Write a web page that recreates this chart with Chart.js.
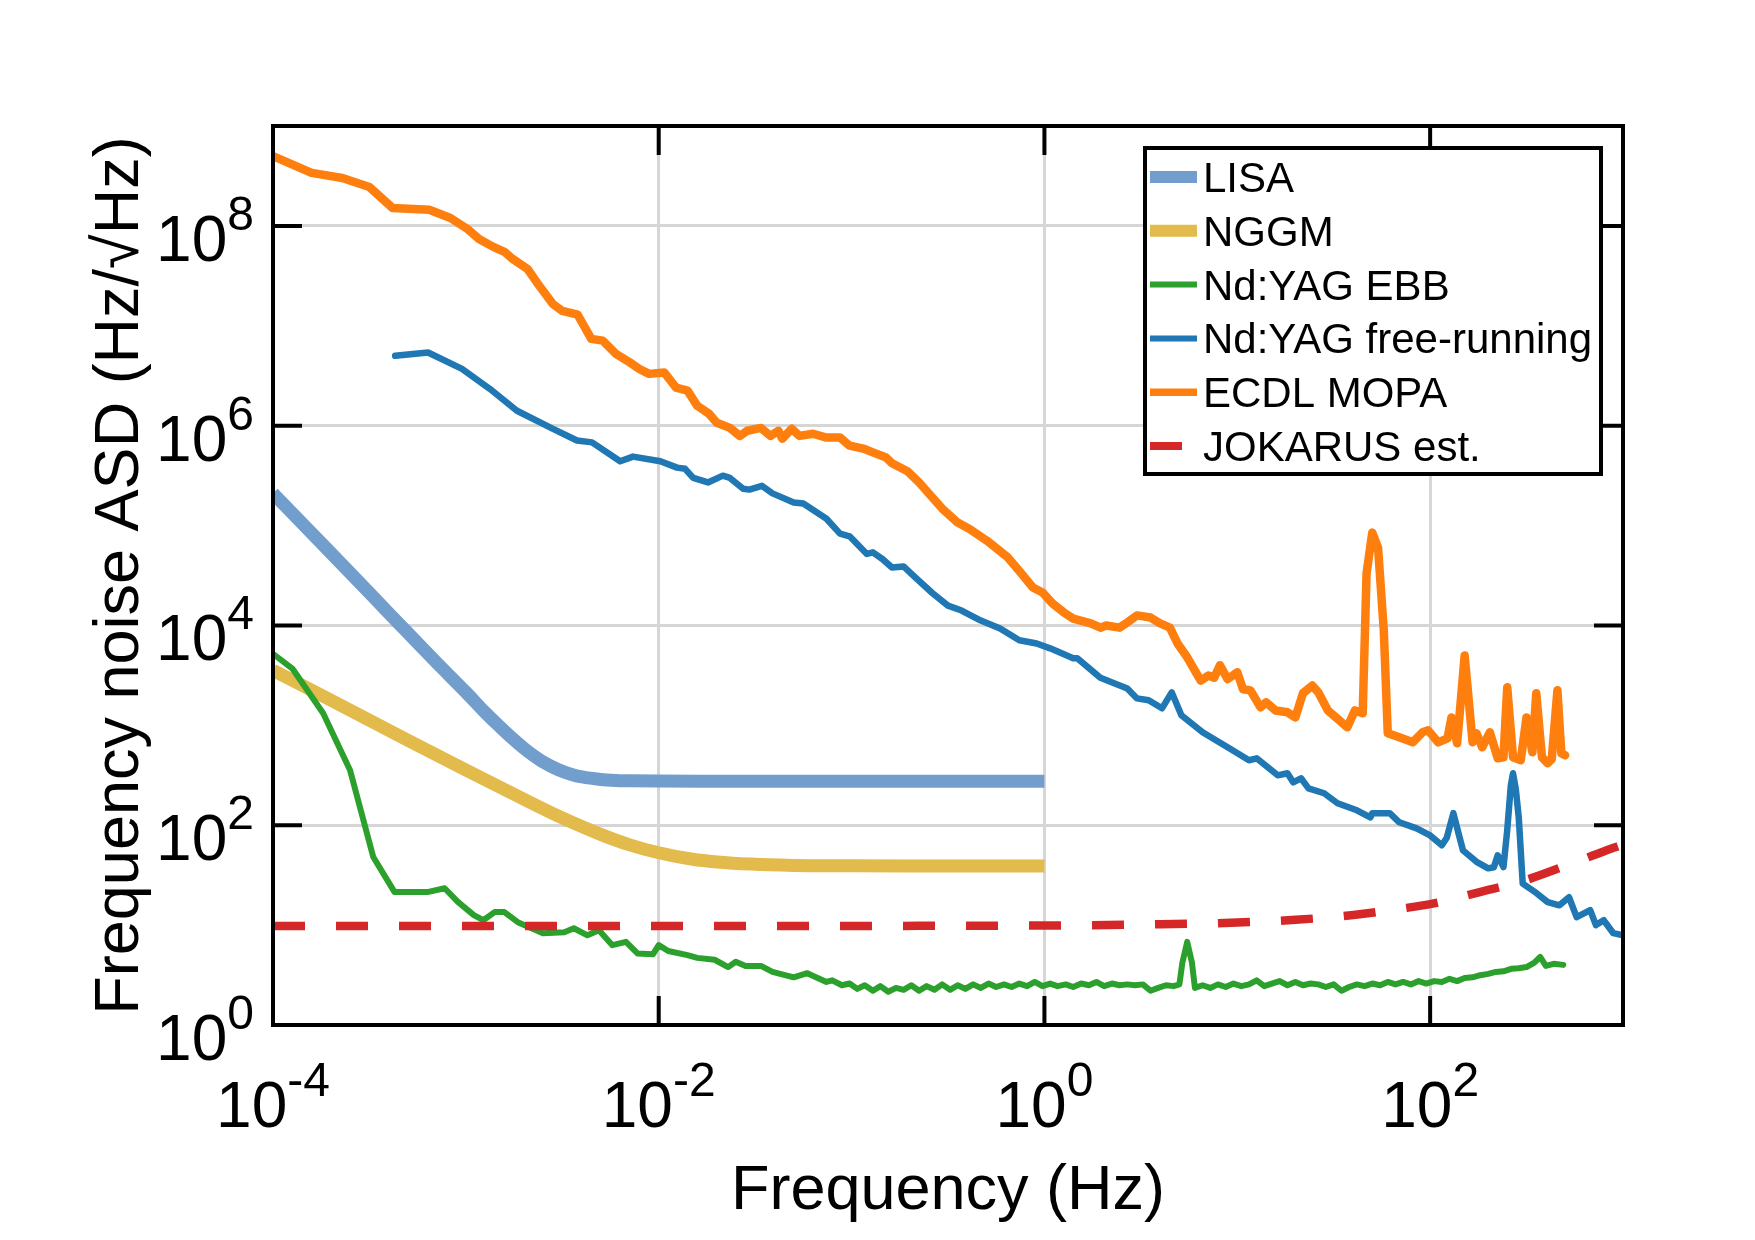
<!DOCTYPE html>
<html>
<head>
<meta charset="utf-8">
<title>Frequency noise ASD</title>
<script src="https://cdn.jsdelivr.net/npm/chart.js@4.4.1/dist/chart.umd.min.js"></script>
<style>
    html, body { margin: 0; padding: 0; background: #fff; }
    #wrap { width: 1755px; height: 1240px; }
</style>
</head>
<body>
<div id="wrap"><canvas id="asdChart" width="1755" height="1240"></canvas></div>
<script>
// === Axis ticks (log decades) ===
const xTickValues = [1e-4, 1e-2, 1, 1e2];
const xTickExps = ['-4', '-2', '0', '2'];
const yTickValues = [1, 1e2, 1e4, 1e6, 1e8];
const yTickExps = ['0', '2', '4', '6', '8'];

// === Series (Hz, Hz/sqrt(Hz)) ===
const lisaFreq = [1e-4, 2e-4, 4e-4, 7e-4, 1e-3, 1.25e-3, 1.5e-3, 1.75e-3, 2e-3, 2.25e-3, 2.5e-3, 3e-3, 3.5e-3, 4e-3, 5e-3, 6e-3, 7e-3, 1e-2, 2e-2, 5e-2, 1e-1, 1];
const lisaAsd = [2.1e5, 5.3e4, 1.32e4, 4.3e3, 2.15e3, 1365, 970, 735, 590, 496, 433, 361, 324, 304, 287, 281, 279, 277, 276, 275, 275, 275];

const nggmFreq = [1e-4, 2e-4, 5e-4, 1e-3, 2e-3, 3e-3, 5e-3, 7e-3, 1e-2, 1.5e-2, 2e-2, 3e-2, 5e-2, 1e-1, 2e-1, 1];
const nggmAsd = [3.55e3, 1.78e3, 709, 357, 182, 124, 81, 64, 53, 45.6, 42.9, 40.8, 39.6, 39.2, 39, 39];

const ebbFreq = [
    1.0e-4, 1.26e-4, 1.82e-4, 2.51e-4, 3.31e-4, 4.27e-4, 6.31e-4, 7.76e-4, 9.12e-4, 1.10e-3,
    1.23e-3, 1.41e-3, 1.585e-3, 1.86e-3, 2.51e-3, 3.24e-3, 3.63e-3, 4.27e-3, 4.90e-3, 5.75e-3,
    6.76e-3, 7.76e-3, 9.33e-3, 1.0e-2, 1.12e-2, 1.41e-2, 1.585e-2, 1.95e-2, 2.29e-2, 2.51e-2,
    2.82e-2, 3.39e-2, 3.89e-2, 5.01e-2, 5.89e-2, 7.41e-2, 7.94e-2, 8.91e-2, 9.77e-2, 0.107,
    0.117, 0.129, 0.141, 0.155, 0.170, 0.186, 0.204, 0.224, 0.245, 0.269,
    0.295, 0.324, 0.355, 0.389, 0.427, 0.468, 0.513, 0.562, 0.617, 0.676,
    0.741, 0.813, 0.891, 0.977, 1.07, 1.17, 1.29, 1.41, 1.55, 1.70,
    1.86, 2.04, 2.24, 2.45, 2.69, 2.95, 3.24, 3.55, 3.89, 4.27,
    4.68, 5.01, 5.19, 5.50, 5.82, 6.03, 6.61, 7.24, 7.94, 8.71,
    9.55, 10.5, 11.5, 12.6, 13.8, 15.1, 16.6, 18.2, 20.0, 21.9,
    24.0, 26.3, 28.8, 31.6, 34.7, 38.0, 41.7, 45.7, 50.1, 55.0,
    60.3, 66.1, 72.4, 79.4, 87.1, 95.5, 105, 115, 126, 138,
    151, 166, 182, 200, 219, 240, 263, 288, 316, 347,
    372, 398, 437, 490
];
const ebbAsd = [
    5.2e3, 3.7e3, 1.32e3, 355, 48, 21.4, 21.4, 23.4, 17, 12.6,
    11.2, 13.5, 13.5, 10.7, 8.3, 8.5, 9.3, 7.9, 8.9, 6.3,
    6.8, 5.2, 5.1, 6.3, 5.5, 5.0, 4.7, 4.5, 3.8, 4.3,
    3.9, 3.9, 3.4, 3.0, 3.3, 2.7, 2.8, 2.5, 2.6, 2.3,
    2.5, 2.2, 2.45, 2.15, 2.35, 2.25, 2.5, 2.2, 2.45, 2.25,
    2.55, 2.25, 2.5, 2.3, 2.55, 2.35, 2.6, 2.4, 2.55, 2.4,
    2.6, 2.45, 2.7, 2.45, 2.6, 2.45, 2.55, 2.4, 2.6, 2.5,
    2.7, 2.45, 2.6, 2.5, 2.55, 2.5, 2.55, 2.2, 2.35, 2.5,
    2.45, 2.55, 4.2, 6.8, 4.2, 2.35, 2.5, 2.35, 2.55, 2.4,
    2.6, 2.45, 2.55, 2.8, 2.45, 2.6, 2.75, 2.5, 2.7, 2.5,
    2.6, 2.55, 2.4, 2.55, 2.2, 2.4, 2.55, 2.45, 2.6, 2.5,
    2.7, 2.55, 2.7, 2.55, 2.75, 2.6, 2.75, 2.7, 2.9, 2.75,
    2.95, 3.0, 3.15, 3.25, 3.4, 3.45, 3.65, 3.7, 3.8, 4.2,
    4.8, 3.9, 4.1, 4.0
];

const freeFreq = [
    4.30e-4, 6.37e-4, 9.55e-4, 1.33e-3, 1.84e-3, 2.83e-3, 3.77e-3, 4.51e-3, 6.31e-3, 7.36e-3,
    1.02e-2, 1.245e-2, 1.37e-2, 1.51e-2, 1.80e-2, 2.15e-2, 2.34e-2, 2.74e-2, 2.95e-2, 3.43e-2,
    3.89e-2, 5.01e-2, 5.62e-2, 7.41e-2, 8.71e-2, 9.77e-2, 0.120, 0.129, 0.145, 0.162,
    0.186, 0.209, 0.263, 0.316, 0.372, 0.468, 0.589, 0.741, 0.912, 1.07,
    1.41, 1.48, 1.95, 2.69, 3.02, 3.47, 4.07, 4.57, 5.13, 6.61,
    8.91, 11.5, 12.6, 16.2, 18.2, 19.5, 21.4, 23.4, 28.2, 33.1,
    41.7, 49.0, 50.1, 61.7, 69.2, 85.1, 100, 115, 122, 132,
    141, 148, 174, 200, 214, 224, 240, 251, 262, 269,
    278, 288, 302, 355, 407, 468, 525, 575, 676, 724,
    794, 891, 1000
];
const freeAsd = [
    5.0e6, 5.4e6, 3.7e6, 2.34e6, 1.41e6, 9.3e5, 7.1e5, 6.8e5, 4.4e5, 4.9e5,
    4.4e5, 3.8e5, 3.7e5, 3.0e5, 2.7e5, 3.16e5, 3.0e5, 2.34e5, 2.29e5, 2.5e5,
    2.1e5, 1.70e5, 1.66e5, 1.17e5, 8.3e4, 7.8e4, 5.2e4, 5.4e4, 4.6e4, 3.8e4,
    3.9e4, 3.16e4, 2.1e4, 1.58e4, 1.41e4, 1.12e4, 9.3e3, 7.1e3, 6.6e3, 5.9e3,
    4.7e3, 4.7e3, 3.0e3, 2.34e3, 1.86e3, 1.78e3, 1.48e3, 2.14e3, 1.26e3, 851,
    603, 447, 468, 316, 331, 269, 295, 234, 209, 166,
    141, 120, 132, 132, 107, 93, 79, 63, 75, 132,
    80, 56, 43, 37, 38, 50, 38, 89, 250, 331,
    230, 120, 26, 21, 17, 15.8, 19, 12, 14.1, 10,
    11.2, 8.3, 7.9
];

const ecdlFreq = [
    1.0e-4, 1.585e-4, 2.29e-4, 3.16e-4, 4.17e-4, 6.46e-4, 8.32e-4, 1.02e-3, 1.17e-3, 1.38e-3,
    1.585e-3, 1.74e-3, 2.09e-3, 2.34e-3, 2.82e-3, 3.16e-3, 3.80e-3, 4.47e-3, 5.13e-3, 6.03e-3,
    7.08e-3, 7.94e-3, 8.91e-3, 1.07e-2, 1.23e-2, 1.41e-2, 1.585e-2, 1.82e-2, 2.0e-2, 2.34e-2,
    2.63e-2, 2.88e-2, 3.39e-2, 3.80e-2, 4.17e-2, 4.37e-2, 4.90e-2, 5.37e-2, 6.31e-2, 7.41e-2,
    8.71e-2, 9.77e-2, 0.115, 0.129, 0.151, 0.162, 0.195, 0.224, 0.257, 0.295,
    0.355, 0.407, 0.501, 0.646, 0.741, 0.871, 0.977, 1.10, 1.26, 1.41,
    1.74, 1.95, 2.09, 2.45, 2.69, 3.02, 3.55, 3.98, 4.47, 4.90,
    5.50, 6.46, 7.08, 7.59, 8.13, 8.91, 10.0, 10.7, 11.7, 13.2,
    14.1, 15.8, 18.2, 20.0, 21.9, 24.5, 26.3, 29.5, 33.9, 37.2,
    40.7, 44.7, 46.8, 50.1, 53.7, 57.5, 60.3, 69.2, 81.3, 91.2,
    97.7, 110, 123, 129, 138, 151, 166, 174, 186, 204,
    224, 240, 251, 269, 295, 316, 339, 355, 380, 407,
    427, 457, 479, 501
];
const ecdlAsd = [
    5.0e8, 3.39e8, 3.02e8, 2.45e8, 1.51e8, 1.45e8, 1.20e8, 9.3e7, 7.4e7, 6.2e7,
    5.5e7, 4.7e7, 3.7e7, 2.7e7, 1.66e7, 1.41e7, 1.29e7, 7.4e6, 7.1e6, 5.2e6,
    4.3e6, 3.7e6, 3.3e6, 3.4e6, 2.4e6, 2.24e6, 1.58e6, 1.32e6, 1.07e6, 9.5e5,
    7.9e5, 8.9e5, 9.5e5, 7.9e5, 8.9e5, 7.4e5, 9.3e5, 7.9e5, 8.3e5, 7.6e5,
    7.6e5, 6.3e5, 5.9e5, 5.4e5, 4.8e5, 4.2e5, 3.5e5, 2.7e5, 2.0e5, 1.48e5,
    1.07e5, 9.3e4, 7.1e4, 4.8e4, 3.5e4, 2.4e4, 2.14e4, 1.66e4, 1.35e4, 1.17e4,
    1.05e4, 9.5e3, 1.0e4, 9.5e3, 1.07e4, 1.26e4, 1.20e4, 1.05e4, 9.5e3, 6.6e3,
    4.8e3, 2.8e3, 3.16e3, 3.0e3, 4.0e3, 2.9e3, 3.4e3, 2.3e3, 2.24e3, 1.51e3,
    1.70e3, 1.41e3, 1.35e3, 1.20e3, 2.1e3, 2.5e3, 2.14e3, 1.41e3, 1.12e3, 955,
    1.41e3, 1.32e3, 3.3e4, 8.5e4, 6.0e4, 8.9e3, 832, 759, 676, 851,
    891, 676, 741, 1.2e3, 661, 5.0e3, 676, 832, 603, 851,
    468, 479, 2.4e3, 479, 447, 1.2e3, 537, 2.1e3, 479, 417,
    457, 2.24e3, 525, 501
];

const jokFreq = [1e-4, 1e-2, 1, 4, 10, 20, 40, 70, 100, 150, 200, 300, 500, 800, 1000];
const jokAsd = [9.8, 9.8, 9.9, 10.2, 10.6, 11.3, 12.6, 14.6, 16.2, 19.5, 22.5, 27.5, 39, 55, 64];

const FONT = '"Liberation Sans", Arial, Helvetica, sans-serif';

document.addEventListener('DOMContentLoaded', () => {
    const toPoints = (xs, ys) => xs.map((f, i) => ({ x: f, y: ys[i] }));

    const datasets = [
        { label: 'LISA', data: toPoints(lisaFreq, lisaAsd), borderColor: '#729ece', borderWidth: 13, borderCapStyle: 'butt', cubicInterpolationMode: 'monotone', legendWidth: 12, order: 5 },
        { label: 'NGGM', data: toPoints(nggmFreq, nggmAsd), borderColor: '#e3ba4c', borderWidth: 13, borderCapStyle: 'butt', cubicInterpolationMode: 'monotone', legendWidth: 12, order: 4 },
        { label: 'Nd:YAG EBB', data: toPoints(ebbFreq, ebbAsd), borderColor: '#2ca02c', borderWidth: 6, legendWidth: 6, order: 3 },
        { label: 'Nd:YAG free-running', data: toPoints(freeFreq, freeAsd), borderColor: '#1f77b4', borderWidth: 6.5, legendWidth: 6, order: 2 },
        { label: 'ECDL MOPA', data: toPoints(ecdlFreq, ecdlAsd), borderColor: '#ff7f0e', borderWidth: 8.5, legendWidth: 7.5, order: 1 },
        { label: 'JOKARUS est.', data: toPoints(jokFreq, jokAsd), borderColor: '#d62728', borderWidth: 8.5, borderDash: [32, 31], borderCapStyle: 'butt', cubicInterpolationMode: 'monotone', legendWidth: 8, order: 0 }
    ];
    datasets.forEach(d => {
        d.fill = false;
        d.pointRadius = 0;
        d.clip = 0;
        if (!d.borderCapStyle) d.borderCapStyle = 'round';
        d.borderJoinStyle = 'round';
    });

    // superscript power label "10^exp"
    const drawPow = (ctx, exp, x, baseY, align) => {
        ctx.font = '64px ' + FONT;
        const wBase = ctx.measureText('10').width;
        ctx.font = '48px ' + FONT;
        const wExp = ctx.measureText(exp).width;
        const total = wBase + wExp;
        const x0 = align === 'right' ? x - total : x - total / 2;
        ctx.textAlign = 'left';
        ctx.textBaseline = 'alphabetic';
        ctx.font = '64px ' + FONT;
        ctx.fillText('10', x0, baseY);
        ctx.font = '48px ' + FONT;
        ctx.fillText(exp, x0 + wBase, baseY - 31);
    };

    const decorations = {
        id: 'decorations',
        afterDatasetsDraw(chart) {
            const { ctx, chartArea: a, scales: { x, y } } = chart;
            ctx.save();
            ctx.fillStyle = '#000';
            ctx.strokeStyle = '#000';
            ctx.lineCap = 'butt';

            // inward ticks on all four sides
            ctx.lineWidth = 4;
            const tickLen = 29;
            ctx.beginPath();
            xTickValues.forEach(v => {
                const px = x.getPixelForValue(v);
                if (px <= a.left + 1 || px >= a.right - 1) return;
                ctx.moveTo(px, a.bottom); ctx.lineTo(px, a.bottom - tickLen);
                ctx.moveTo(px, a.top); ctx.lineTo(px, a.top + tickLen);
            });
            yTickValues.forEach(v => {
                const py = y.getPixelForValue(v);
                if (py >= a.bottom - 1 || py <= a.top + 1) return;
                ctx.moveTo(a.left, py); ctx.lineTo(a.left + tickLen, py);
                ctx.moveTo(a.right, py); ctx.lineTo(a.right - tickLen, py);
            });
            ctx.stroke();

            // frame
            ctx.lineWidth = 4;
            ctx.strokeRect(a.left, a.top, a.right - a.left, a.bottom - a.top);

            // legend box
            const box = { left: 1145, top: 148, width: 456, height: 326 };
            ctx.fillStyle = '#fff';
            ctx.fillRect(box.left, box.top, box.width, box.height);
            ctx.lineWidth = 4;
            ctx.strokeStyle = '#000';
            ctx.strokeRect(box.left, box.top, box.width, box.height);
            chart.data.datasets.forEach((d, i) => {
                const cy = 177 + i * 53.8;
                ctx.save();
                ctx.strokeStyle = d.borderColor;
                ctx.lineWidth = d.legendWidth;
                ctx.lineCap = 'butt';
                ctx.setLineDash(d.borderDash || []);
                ctx.beginPath();
                ctx.moveTo(1150, cy);
                ctx.lineTo(1197, cy);
                ctx.stroke();
                ctx.restore();
                ctx.fillStyle = '#000';
                ctx.font = '42px ' + FONT;
                ctx.textAlign = 'left';
                ctx.textBaseline = 'alphabetic';
                ctx.fillText(d.label, 1203, cy + 15);
            });

            // tick labels
            ctx.fillStyle = '#000';
            xTickValues.forEach((v, i) => drawPow(ctx, xTickExps[i], x.getPixelForValue(v), a.bottom + 102, 'center'));
            yTickValues.forEach((v, i) => drawPow(ctx, yTickExps[i], a.left - 19, y.getPixelForValue(v) + 35, 'right'));

            // axis titles
            ctx.font = '63px ' + FONT;
            ctx.textAlign = 'center';
            ctx.textBaseline = 'alphabetic';
            ctx.fillText('Frequency (Hz)', (a.left + a.right) / 2, 1209);
            ctx.save();
            ctx.translate(138, (a.top + a.bottom) / 2);
            ctx.rotate(-Math.PI / 2);
            ctx.fillText('Frequency noise ASD (Hz/\u221AHz)', 0, 0);
            ctx.restore();
            ctx.restore();
        }
    };

    const gridStyle = { color: '#d6d6d6', lineWidth: 3, drawTicks: false };

    new Chart(document.getElementById('asdChart').getContext('2d'), {
        type: 'line',
        data: { datasets: datasets },
        options: {
            responsive: false,
            animation: false,
            devicePixelRatio: 1,
            events: [],
            layout: { padding: { left: 273, right: 132, top: 126, bottom: 215 } },
            plugins: { legend: { display: false }, tooltip: { enabled: false } },
            scales: {
                x: {
                    type: 'logarithmic',
                    min: 1e-4,
                    max: 1e3,
                    afterBuildTicks: (s) => { s.ticks = xTickValues.map(v => ({ value: v })); },
                    afterFit: (s) => { s.height = 0; },
                    ticks: { display: false },
                    grid: gridStyle,
                    border: { display: false }
                },
                y: {
                    type: 'logarithmic',
                    min: 1,
                    max: 1e9,
                    afterBuildTicks: (s) => { s.ticks = yTickValues.map(v => ({ value: v })); },
                    afterFit: (s) => { s.width = 0; },
                    ticks: { display: false },
                    grid: gridStyle,
                    border: { display: false }
                }
            }
        },
        plugins: [decorations]
    });
});
</script>
</body>
</html>
